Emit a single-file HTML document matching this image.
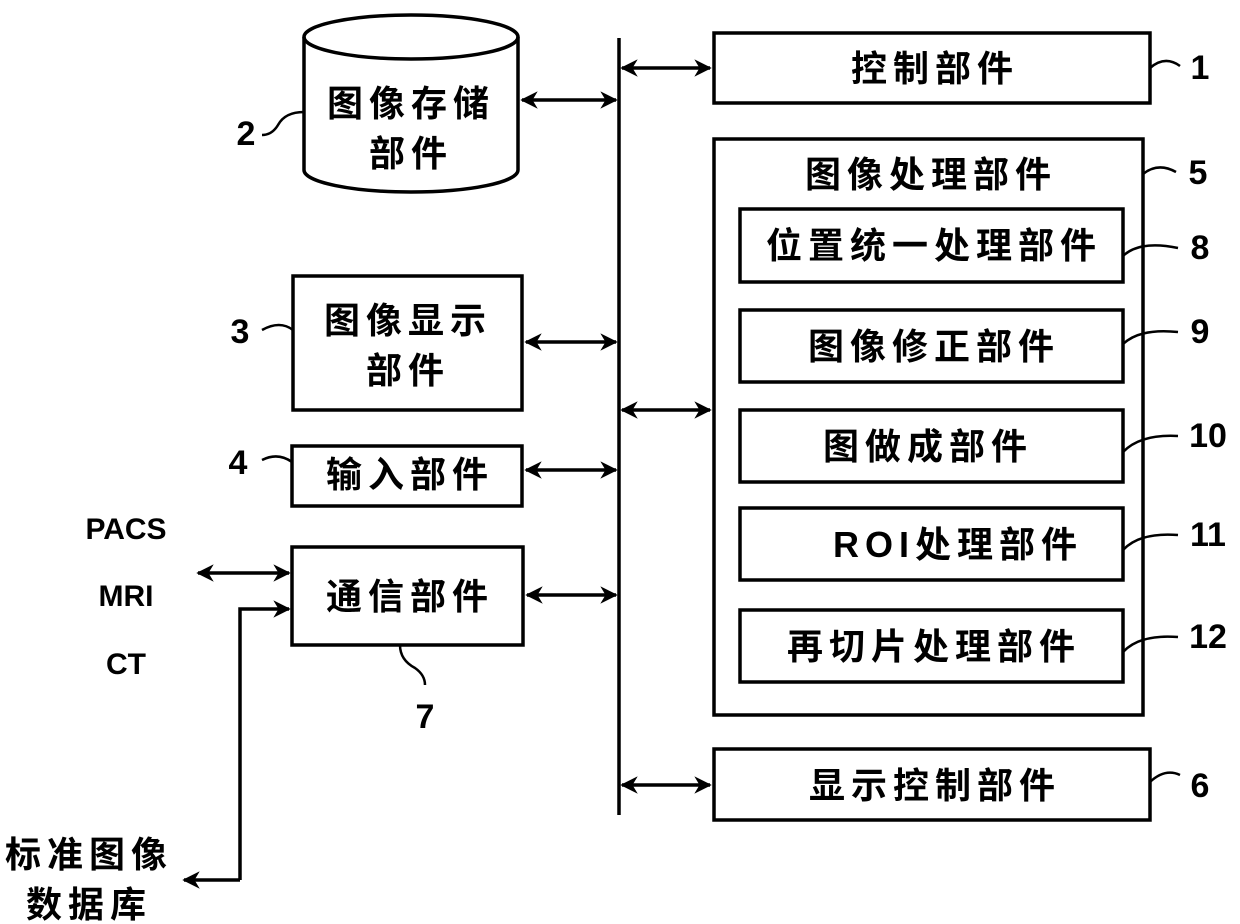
<!DOCTYPE html>
<html><head><meta charset="utf-8"><style>
html,body{margin:0;padding:0;background:#fff}
svg{display:block}
text{font-family:"Liberation Sans","Noto Sans CJK SC",sans-serif;font-weight:bold;fill:#000}
.c{font-size:36px;text-anchor:middle;letter-spacing:6px}
.n{font-size:34px;text-anchor:middle}
</style></head><body>
<svg width="1240" height="924" viewBox="0 0 1240 924">
<defs>
<marker id="a" viewBox="0 0 10 10" refX="9" refY="5" markerWidth="5" markerHeight="5" orient="auto-start-reverse"><path d="M0,0 L10,5 L0,10 L3,5 z" fill="#000"/></marker>
</defs>
<g stroke="#000" stroke-width="3.5" fill="none">
<line x1="619" y1="38" x2="619" y2="815"/>
<rect x="714" y="33" width="436" height="70"/>
<rect x="714" y="139" width="429" height="576"/>
<rect x="740" y="209" width="383" height="73"/>
<rect x="740" y="310" width="383" height="72"/>
<rect x="740" y="410" width="383" height="72"/>
<rect x="740" y="508" width="383" height="72"/>
<rect x="740" y="610" width="383" height="72"/>
<rect x="714" y="749" width="436" height="71"/>
<rect x="293" y="276" width="229" height="134"/>
<rect x="292" y="446" width="230" height="60"/>
<rect x="292" y="547" width="231" height="98"/>
<path d="M304,37 L304,170 A107,22 0 0 0 518,170 L518,37"/>
<ellipse cx="411" cy="37" rx="107" ry="22"/>
<line x1="622" y1="68" x2="710" y2="68" marker-start="url(#a)" marker-end="url(#a)"/>
<line x1="522" y1="100" x2="616" y2="100" marker-start="url(#a)" marker-end="url(#a)"/>
<line x1="526" y1="342" x2="616" y2="342" marker-start="url(#a)" marker-end="url(#a)"/>
<line x1="526" y1="470" x2="616" y2="470" marker-start="url(#a)" marker-end="url(#a)"/>
<line x1="527" y1="595" x2="616" y2="595" marker-start="url(#a)" marker-end="url(#a)"/>
<line x1="622" y1="410" x2="710" y2="410" marker-start="url(#a)" marker-end="url(#a)"/>
<line x1="622" y1="785" x2="710" y2="785" marker-start="url(#a)" marker-end="url(#a)"/>
<line x1="198" y1="573" x2="289" y2="573" marker-start="url(#a)" marker-end="url(#a)"/>
<polyline points="240,880 240,609 289,609" marker-end="url(#a)"/>
<line x1="240" y1="880" x2="184" y2="880" marker-end="url(#a)"/>
<g stroke-width="2.5">
<path d="M1150,68 Q1165,55 1180,66"/>
<path d="M1143,174 Q1158,162 1176,172"/>
<path d="M1123,256 Q1140,240 1178,248"/>
<path d="M1123,344 Q1140,328 1178,332"/>
<path d="M1123,452 Q1140,434 1178,436"/>
<path d="M1123,550 Q1140,532 1178,535"/>
<path d="M1123,652 Q1140,634 1178,637"/>
<path d="M1150,782 Q1165,768 1180,775"/>
<path d="M304,112 Q285,112 278,125 Q272,135 262,135"/>
<path d="M293,330 Q280,320 262,330"/>
<path d="M292,462 Q278,452 262,460"/>
<path d="M400,645 Q400,660 415,668 Q425,675 425,685"/>
</g>
</g>
<text class="c" x="935" y="81">控制部件</text>
<text class="c" x="411" y="116">图像存储</text>
<text class="c" x="411" y="166">部件</text>
<text class="c" x="408" y="333">图像显示</text>
<text class="c" x="408" y="383">部件</text>
<text class="c" x="410" y="487">输入部件</text>
<text class="c" x="410" y="609">通信部件</text>
<text class="c" x="931" y="187">图像处理部件</text>
<text class="c" x="934" y="258">位置统一处理部件</text>
<text class="c" x="934" y="359">图像修正部件</text>
<text class="c" x="928" y="459">图做成部件</text>
<text class="c" x="958" y="557">ROI处理部件</text>
<text class="c" x="934" y="659">再切片处理部件</text>
<text class="c" x="935" y="798">显示控制部件</text>
<text class="n" x="1200" y="79">1</text>
<text class="n" x="246" y="145">2</text>
<text class="n" x="240" y="343">3</text>
<text class="n" x="238" y="474">4</text>
<text class="n" x="1198" y="184">5</text>
<text class="n" x="1200" y="797">6</text>
<text class="n" x="425" y="728">7</text>
<text class="n" x="1200" y="259">8</text>
<text class="n" x="1200" y="343">9</text>
<text class="n" x="1208" y="447">10</text>
<text class="n" x="1208" y="546">11</text>
<text class="n" x="1208" y="648">12</text>
<text class="n" x="126" y="539" style="font-size:30px">PACS</text>
<text class="n" x="126" y="606" style="font-size:30px">MRI</text>
<text class="n" x="126" y="674" style="font-size:30px">CT</text>
<text class="c" x="89" y="867">标准图像</text>
<text class="c" x="89" y="917">数据库</text>
</svg>
</body></html>
